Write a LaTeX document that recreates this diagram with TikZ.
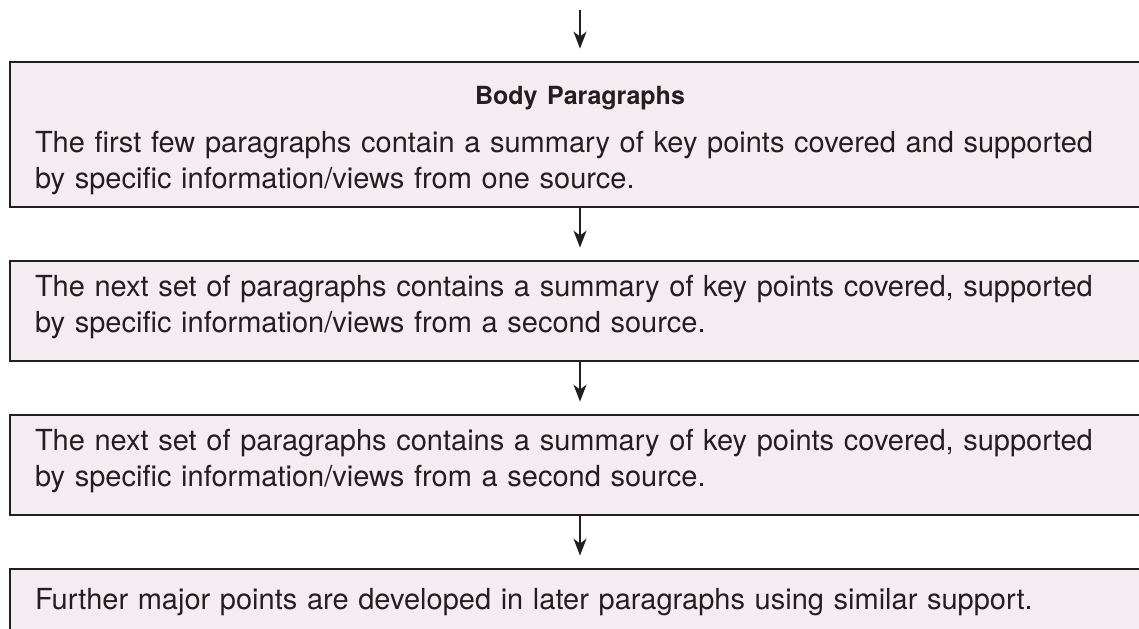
\documentclass[tikz,border=0pt]{standalone}
\usepackage{fontspec}
\setmainfont{TeX Gyre Heros}
\usepackage{tikz}
\usetikzlibrary{arrows.meta,positioning}
\definecolor{boxpink}{RGB}{245,236,241}
\definecolor{inkgrey}{RGB}{35,31,32}
\tikzset{
  parabox/.style={draw=inkgrey, line width=1.4pt, fill=boxpink,
    minimum width=570pt, inner sep=0pt},
  paratext/.style={text=inkgrey, text width=545pt, inner sep=0pt,
    align=left, font=\fontsize{14.5}{18}\selectfont},
  downarrow/.style={-{Stealth[length=8.5pt,width=6.5pt,inset=2.5pt]},
    line width=1pt, draw=inkgrey, shorten >=6pt}
}

\begin{document}
\begin{tikzpicture}[x=0.5pt,y=-0.5pt]
        \useasboundingbox (0,0) rectangle (1139,628);
        \clip (0,0) rectangle (1139,628);
        \coordinate (start) at (580,10);
        % boxes
        \node[parabox, minimum height=72.5pt] (body1) at (580,134.5) {};
        \node[parabox, minimum height=50pt] (body2) at (580,311) {};
        \node[parabox, minimum height=50pt] (body3) at (580,465) {};
        \node[parabox, minimum height=31pt] (body4) at (580,600) {};
        % texts
        \node[paratext] (text1) at ([yshift=-3pt]body1.center)
            {{\centering\fontsize{12.5}{15}\selectfont\bfseries Body Paragraphs\par}\vspace{6pt}%
             The first few paragraphs contain a summary of key points covered and supported\\
             by specific information/views from one source.};
        \node[paratext] (text2) at ([yshift=2pt]body2.center)
            {The next set of paragraphs contains a summary of key points covered, supported\\
             by specific information/views from a second source.};
        \node[paratext] (text3) at ([yshift=2pt]body3.center)
            {The next set of paragraphs contains a summary of key points covered, supported\\
             by specific information/views from a second source.};
        \node[paratext] (text4) at ([yshift=-1pt]body4.center)
            {Further major points are developed in later paragraphs using similar support.};
        % arrows
        \draw[downarrow] (start) -- (body1);
        \draw[downarrow] (body1) -- (body2);
        \draw[downarrow] (body2) -- (body3);
        \draw[downarrow] (body3) -- (body4);
    \end{tikzpicture}
\end{document}
